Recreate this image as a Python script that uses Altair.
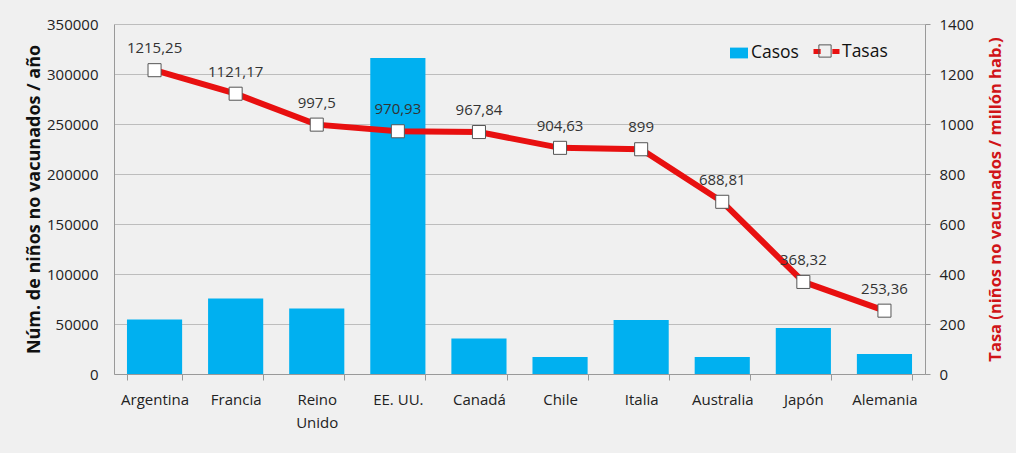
import altair as alt
import pandas as pd

paises = ["Argentina", "Francia", "Reino Unido", "EE. UU.", "Canadá",
          "Chile", "Italia", "Australia", "Japón", "Alemania"]
casos = [54500, 75500, 65500, 316000, 35500, 17000, 54000, 17000, 46000, 20000]
tasas = [1215.25, 1121.17, 997.5, 970.93, 967.84, 904.63, 899, 688.81, 368.32, 253.36]
tasas_txt = ["1215,25", "1121,17", "997,5", "970,93", "967,84",
             "904,63", "899", "688,81", "368,32", "253,36"]

df = pd.DataFrame({
    "pais": paises, "casos": casos, "tasa": tasas, "txt": tasas_txt,
    "s1": "Casos", "s2": "Tasas", "s3": "Marcador",
})

FONT = "Open Sans"
BLUE = "#00b0f0"
RED = "#e81010"
TITLE_RED = "#d01418"
GRID = "#bdbdbd"

x = alt.X(
    "pais:N", sort=paises, title=None,
    scale=alt.Scale(paddingInner=0.32, paddingOuter=0.16),
    axis=alt.Axis(
        labelAngle=0, labelFontSize=15, labelColor="#222", labelPadding=12,
        tickBand="extent", tickSize=6, tickColor="#999", domainColor="#999",
        labelExpr="datum.label == 'Reino Unido' ? ['Reino', 'Unido'] : datum.label",
        labelLineHeight=23,
    ),
)

base = alt.Chart(df)

bars = base.mark_bar(color=BLUE).encode(
    x=x,
    y=alt.Y(
        "casos:Q", scale=alt.Scale(domain=[0, 350000]),
        axis=alt.Axis(
            values=list(range(0, 350001, 50000)), format="d",
            title="Núm. de niños no vacunados / año",
            grid=True, gridColor=GRID, domainColor="#999", ticks=False,
            labelPadding=16, labelFontSize=15, labelColor="#222",
            titleFontSize=18, titleFontWeight="bold", titleColor="#111", titlePadding=3,
        ),
    ),
    color=alt.Color(
        "s1:N", scale=alt.Scale(domain=["Casos"], range=[BLUE]),
        legend=alt.Legend(
            title=None, orient="none", legendX=616, legendY=20, padding=0,
            symbolType="M-1,-0.6H1V0.6H-1Z", symbolSize=324, symbolStrokeWidth=0,
            labelFontSize=17.5, labelColor="#111", labelOffset=3,
        ),
    ),
)

y2 = alt.Y(
    "tasa:Q", scale=alt.Scale(domain=[0, 1400]),
    axis=alt.Axis(
        orient="right", values=list(range(0, 1401, 200)), format="d", grid=False,
        title="Tasa (niños no vacunados / millón hab.)", titleAngle=270,
        domainColor="#999", tickColor="#999", tickSize=5,
        labelPadding=9, labelFontSize=15, labelColor="#222",
        titleFontSize=16.5, titleFontWeight="bold", titleColor=TITLE_RED, titlePadding=30,
    ),
)

line = base.mark_line(strokeWidth=6).encode(
    x=x, y=y2,
    stroke=alt.Stroke(
        "s2:N", scale=alt.Scale(domain=["Tasas"], range=[RED]),
        legend=alt.Legend(
            title=None, orient="none", legendX=697, legendY=12, padding=0,
            symbolType="M-1,0H-0.45M0.45,0H1", symbolSize=676, symbolStrokeWidth=5,
            symbolFillColor="transparent",
            labelFontSize=17.5, labelColor="#111", labelOffset=0,
        ),
    ),
)

# white square markers (filled)
points_fill = base.mark_point(shape="square", filled=True, color="white",
                              size=170, opacity=1).encode(x=x, y=y2)

# marker outlines, which also carry the legend entry for the marker
points_edge = base.mark_point(filled=False, color="#555",
                              strokeWidth=1, size=170, opacity=1).encode(
    x=x, y=y2,
    shape=alt.Shape(
        "s3:N", scale=alt.Scale(domain=["Marcador"], range=["square"]),
        legend=alt.Legend(
            title=None, orient="none", legendX=704, legendY=20, padding=0,
            symbolSize=150, symbolStrokeColor="#555", symbolFillColor="white",
            symbolStrokeWidth=1, labelExpr="''",
        ),
    ),
)

labels = base.mark_text(dy=-22, fontSize=15, color="#333", font=FONT).encode(
    x=x, y=y2, text="txt:N",
)

right = alt.layer(line, points_fill, points_edge, labels)

chart = alt.layer(bars, right).resolve_scale(
    y="independent", color="independent", stroke="independent", shape="independent"
).properties(
    width=811, height=350,
    autosize=alt.AutoSizeParams(type="none"),
    padding={"left": 114, "top": 24, "right": 91, "bottom": 79},
    background="#f0f0f0",
).configure_view(stroke=None).configure_axis(
    labelFont=FONT, titleFont=FONT,
).configure_legend(labelFont=FONT)

chart.save("out.html", embed_options={"renderer": "svg", "actions": False})
